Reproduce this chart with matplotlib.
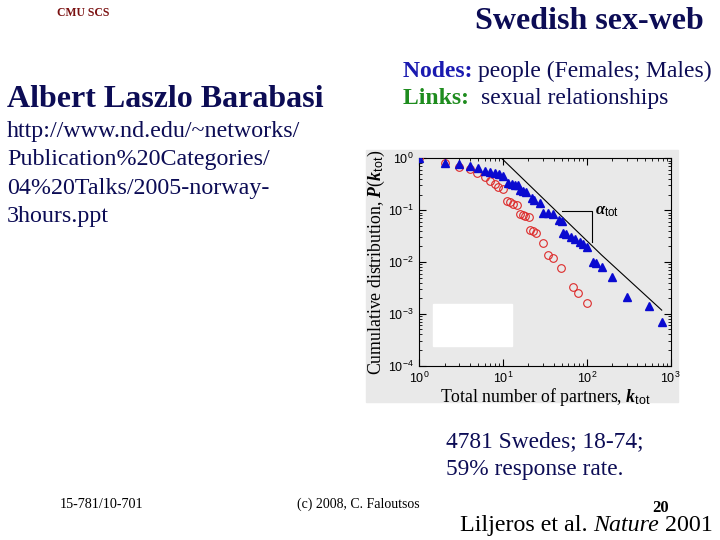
import numpy as np
import matplotlib
matplotlib.use('Agg')
import matplotlib.pyplot as plt
from matplotlib.patches import Rectangle

# data (Liljeros et al. 2001), cumulative distribution
males_k = [1, 2, 3, 4, 5, 6, 7, 8, 9, 10, 11.5, 12.6, 13.9, 15, 16, 17.5, 19,
           22, 23.6, 27.5, 30, 34.6, 39, 46, 50, 52, 57, 64, 72, 83, 90, 99,
           119, 130, 150, 197, 298, 556, 787]
males_p = [1, 0.82, 0.78, 0.72, 0.66, 0.58, 0.54, 0.51, 0.49, 0.46, 0.33, 0.32,
           0.31, 0.30, 0.245, 0.235, 0.225, 0.17, 0.16, 0.135, 0.09, 0.087,
           0.083, 0.065, 0.062, 0.036, 0.035, 0.030, 0.0275, 0.0247, 0.0224,
           0.0198, 0.0101, 0.0094, 0.0081, 0.0051, 0.00214, 0.00144, 0.00071]
females_k = [1, 2, 3, 4, 4.9, 6.1, 7, 8, 8.8, 9.9, 11, 12.1, 13.2, 14.8, 15.9,
             17.1, 18.3, 20.4, 20.9, 22.5, 24.4, 29.6, 34.6, 39.7, 49, 68.8,
             78.9, 99]
females_p = [1, 0.82, 0.67, 0.62, 0.53, 0.43, 0.37, 0.315, 0.284, 0.252, 0.153,
             0.146, 0.130, 0.126, 0.084, 0.080, 0.077, 0.075, 0.0414, 0.039,
             0.0357, 0.0229, 0.0136, 0.0118, 0.00755, 0.00334, 0.00249, 0.00164]
fit_k = [1, 9.6, 150, 781]
fit_p = [1, 1, 0.0136, 0.00118]

plt.rcParams['font.family'] = 'Liberation Serif'
plt.rcParams['mathtext.fontset'] = 'custom'
plt.rcParams['mathtext.it'] = 'Liberation Serif:italic:bold'
plt.rcParams['mathtext.rm'] = 'Liberation Sans'

navy = '#0c0c55'

fig = plt.figure(figsize=(7.2, 5.4), dpi=100)

def px(x, y):
    return x / 720, 1 - y / 540

# grey panel behind the pasted chart
fig.patches.append(Rectangle(px(366, 402), 312 / 720, 252 / 540,
                             transform=fig.transFigure, color='#e9e9e9', zorder=-1))

ax = fig.add_axes([419.3 / 720, 1 - 365.7 / 540, 251.4 / 720, 207.4 / 540])
ax.set_zorder(1)
ax.set_facecolor('#e9e9e9')
ax.set_xscale('log')
ax.set_yscale('log')
ax.set_xlim(1, 1000)
ax.set_ylim(1e-4, 1)

ax.plot(fit_k, fit_p, color='black', lw=0.8, zorder=2)
ax.plot(females_k, females_p, 'o', mfc='none', mec='#dd2a2a', ms=5.5, mew=0.8, zorder=3)
ax.plot(males_k, males_p, '^', color='#0a0ad0', ms=6.3, zorder=4)

# alpha_tot bracket
ax.plot([50, 116, 116], [0.096, 0.096, 0.0245], color='black', lw=0.8, zorder=2)
ax.text(124, 0.096, r'$\alpha_{\rm tot}$', fontsize=12, va='center',
        family='Liberation Sans')
ax.add_patch(Rectangle((1.45, 0.00024), 12.8 - 1.45, 0.00158 - 0.00024,
                       color='white', zorder=5))

ax.tick_params(which='both', direction='in', top=True, right=True,
               labelsize=9, pad=4)
ax.tick_params(which='major', length=5)
ax.tick_params(which='minor', length=2.5)
for lab in ax.get_xticklabels() + ax.get_yticklabels():
    lab.set_family('Liberation Sans')
ax.set_xlabel(r'Total number of partners, $k$$_{\rm tot}$', fontsize=12.8, labelpad=0)
ax.set_ylabel(r'Cumulative distribution, $P$($k$$_{\rm tot}$)', fontsize=12.8, labelpad=1)

# slide text
fig.text(*px(57, 16), 'CMU SCS', color='#7a1010', fontsize=8.5, weight='bold')
fig.text(*px(475, 29), 'Swedish sex-web', color=navy, fontsize=23, weight='bold')
fig.text(*px(7, 107), 'Albert Laszlo Barabasi', color=navy, fontsize=23, weight='bold')

renderer = fig.canvas.get_renderer()

def run(x, y, pieces):
    # write text pieces one after another on a line
    for s, kw in pieces:
        t = fig.text(*px(x, y), s, **kw)
        x += t.get_window_extent(renderer).width

run(403, 77, [('Nodes: ', dict(color='#1a1ab0', fontsize=17, weight='bold')),
              ('people (Females; Males)', dict(color=navy, fontsize=17))])
run(403, 104, [('Links:  ', dict(color='#1e8c1e', fontsize=17, weight='bold')),
               ('sexual relationships', dict(color=navy, fontsize=17))])

url = ['http://www.nd.edu/~networks/', 'Publication%20Categories/',
       '04%20Talks/2005-norway-', '3hours.ppt']
for i, line in enumerate(url):
    fig.text(*px(7, 137 + 28.3 * i), line, color=navy, fontsize=17.3)

fig.text(*px(446, 447), '4781 Swedes; 18-74;', color=navy, fontsize=16.8)
fig.text(*px(446, 475), '59% response rate.', color=navy, fontsize=16.8)
fig.text(*px(60, 508), '15-781/10-701', color='black', fontsize=10.2)
fig.text(*px(297, 508), '(c) 2008, C. Faloutsos', color='black', fontsize=10)
fig.text(*px(652, 512), '20', color='black', fontsize=12, weight='bold')
run(460, 531, [('Liljeros et al. ', dict(color='black', fontsize=17.3)),
               ('Nature', dict(color='black', fontsize=17.3, style='italic')),
               (' 2001', dict(color='black', fontsize=17.3))])

fig.savefig('out.png', dpi=100)
